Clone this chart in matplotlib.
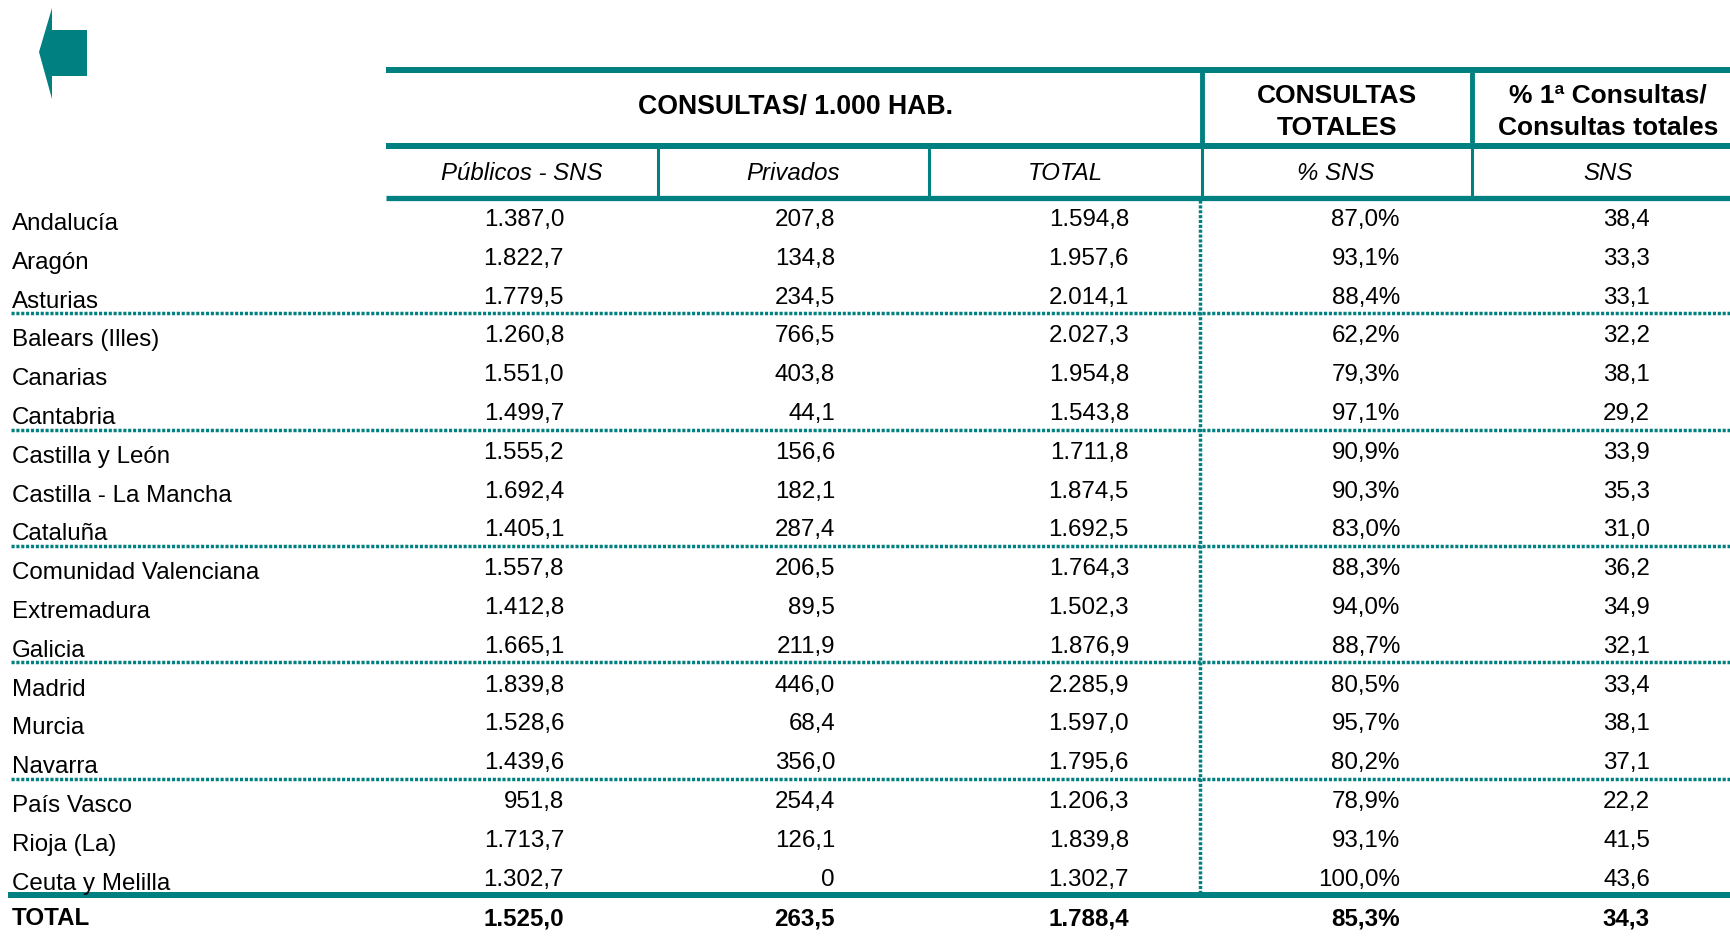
import matplotlib.pyplot as plt
from matplotlib import font_manager as fm
from matplotlib.patches import Polygon

# use the regular-width Liberation Sans, not the Narrow cut
fm.fontManager.ttflist = [f for f in fm.fontManager.ttflist
                          if 'narrow' not in f.fname.lower() and 'narrow' not in f.name.lower()]
plt.rcParams['font.family'] = ['Liberation Sans', 'DejaVu Sans']

# ===================== Data =====================
regions = ['Andalucía', 'Aragón', 'Asturias', 'Balears (Illes)', 'Canarias', 'Cantabria',
           'Castilla y León', 'Castilla - La Mancha', 'Cataluña', 'Comunidad Valenciana',
           'Extremadura', 'Galicia', 'Madrid', 'Murcia', 'Navarra', 'País Vasco',
           'Rioja (La)', 'Ceuta y Melilla']
publicos = ['1.387,0', '1.822,7', '1.779,5', '1.260,8', '1.551,0', '1.499,7', '1.555,2', '1.692,4',
            '1.405,1', '1.557,8', '1.412,8', '1.665,1', '1.839,8', '1.528,6', '1.439,6', '951,8',
            '1.713,7', '1.302,7']
privados = ['207,8', '134,8', '234,5', '766,5', '403,8', '44,1', '156,6', '182,1', '287,4',
            '206,5', '89,5', '211,9', '446,0', '68,4', '356,0', '254,4', '126,1', '0']
total = ['1.594,8', '1.957,6', '2.014,1', '2.027,3', '1.954,8', '1.543,8', '1.711,8', '1.874,5',
         '1.692,5', '1.764,3', '1.502,3', '1.876,9', '2.285,9', '1.597,0', '1.795,6', '1.206,3',
         '1.839,8', '1.302,7']
pct_sns = ['87,0%', '93,1%', '88,4%', '62,2%', '79,3%', '97,1%', '90,9%', '90,3%', '83,0%',
           '88,3%', '94,0%', '88,7%', '80,5%', '95,7%', '80,2%', '78,9%', '93,1%', '100,0%']
primeras = ['38,4', '33,3', '33,1', '32,2', '38,1', '29,2', '33,9', '35,3', '31,0', '36,2',
            '34,9', '32,1', '33,4', '38,1', '37,1', '22,2', '41,5', '43,6']
total_row = ['TOTAL', '1.525,0', '263,5', '1.788,4', '85,3%', '34,3']

header_top = ['CONSULTAS/ 1.000 HAB.', 'CONSULTAS\nTOTALES', '% 1ª Consultas/\nConsultas totales']
header_sub = ['Públicos - SNS', 'Privados', 'TOTAL', '% SNS', 'SNS']

TEAL = '#008080'
W, H = 1730, 937
FS = 17.4  # body font size

fig = plt.figure(figsize=(W / 100, H / 100), dpi=100)
ax = fig.add_axes([0, 0, 1, 1])
ax.set_xlim(0, W)
ax.set_ylim(H, 0)
ax.axis('off')

# ===================== Back arrow =====================
arrow = Polygon([[39, 53], [52, 9], [52, 31], [87, 31], [87, 77], [52, 77], [52, 100]],
                closed=True, facecolor=TEAL, edgecolor='none')
ax.add_patch(arrow)

# ===================== Header lines =====================
ax.plot([386, W], [71, 71], color=TEAL, lw=4.3, solid_capstyle='butt')
ax.plot([386, W], [147, 147], color=TEAL, lw=4.3, solid_capstyle='butt')
ax.plot([386, W], [199, 199], color=TEAL, lw=3.8, solid_capstyle='butt')
for xv in [1202, 1472]:
    ax.plot([xv, xv], [69, 147], color=TEAL, lw=3.5, solid_capstyle='butt')
for xv in [658, 929, 1202, 1472]:
    ax.plot([xv, xv], [147, 199], color=TEAL, lw=2.2, solid_capstyle='butt')

# header text
ax.text(795, 107, header_top[0], ha='center', va='center', fontsize=19.2, fontweight='bold')
ax.text(1337, 112, header_top[1], ha='center', va='center', fontsize=19, fontweight='bold',
        linespacing=1.45)
ax.text(1608, 112, header_top[2], ha='center', va='center', fontsize=19, fontweight='bold',
        linespacing=1.45)
for xc, s in zip([522, 793, 1065, 1336, 1608], header_sub):
    ax.text(xc, 173, s, ha='center', va='center', fontsize=17.3, style='italic')

# ===================== Body =====================
row0, dy = 220, 38.8
col_right = [564, 835, 1129, 1400, 1650]
for i, name in enumerate(regions):
    y = row0 + i * dy
    ax.text(12, y + 4, name, ha='left', va='center', fontsize=FS)
    vals = [publicos[i], privados[i], total[i], pct_sns[i], primeras[i]]
    for xr, v in zip(col_right, vals):
        ax.text(xr, y, v, ha='right', va='center', fontsize=FS)

# dotted separators
for yv in [314, 431, 547, 663, 780]:
    ax.plot([11, W], [yv, yv], color=TEAL, lw=2.5, linestyle=(0, (0.9, 0.5)))
ax.plot([1200, 1200], [201, 893], color=TEAL, lw=2.5, linestyle=(0, (0.9, 0.5)))

# total row
ax.plot([8, W], [896, 896], color=TEAL, lw=4.3, solid_capstyle='butt')
ax.text(12, 919, total_row[0], ha='left', va='center', fontsize=FS, fontweight='bold')
for xr, v in zip(col_right, total_row[1:]):
    ax.text(xr, 919, v, ha='right', va='center', fontsize=FS, fontweight='bold')

fig.savefig('out.png', dpi=100)
